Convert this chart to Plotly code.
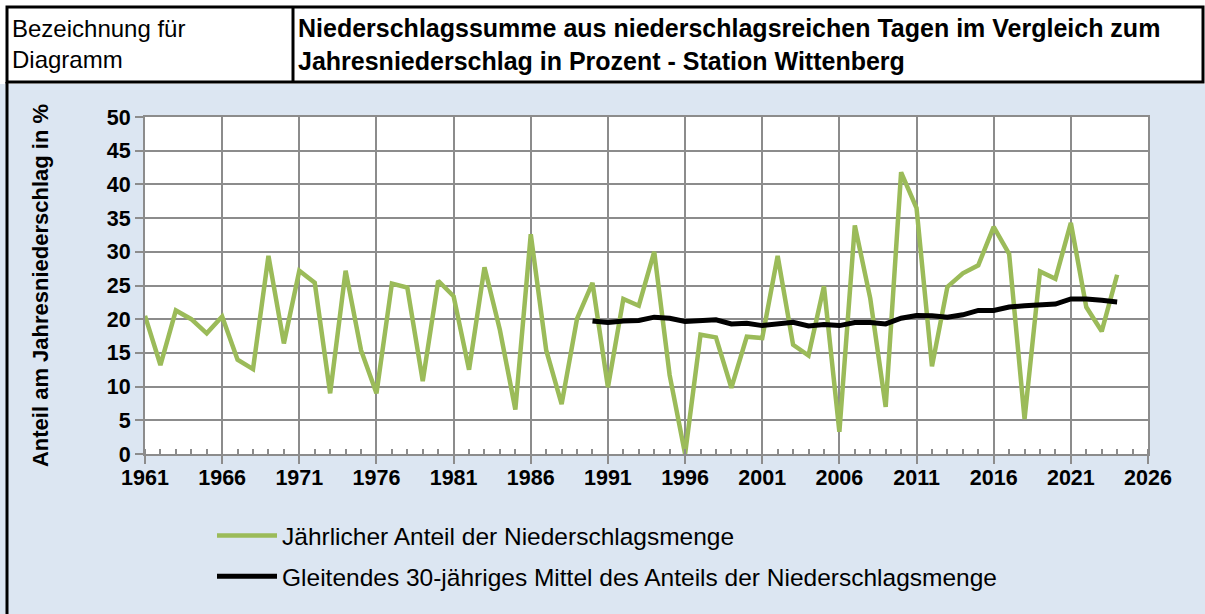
import plotly.graph_objects as go

years = list(range(1961, 2025))
annual_share = [
    20.5, 13.2, 21.3, 20.0, 17.9, 20.4, 14.0, 12.6, 29.4, 16.4,
    27.2, 25.4, 9.0, 27.2, 15.4, 9.0, 25.3, 24.7, 10.8, 25.7,
    23.4, 12.5, 27.7, 18.4, 6.6, 32.6, 15.4, 7.4, 20.1, 25.4,
    9.9, 23.0, 22.0, 30.0, 11.7, 0.0, 17.7, 17.3, 9.8, 17.4,
    17.2, 29.4, 16.2, 14.6, 24.9, 3.3, 33.9, 23.1, 7.0, 41.8,
    36.5, 13.0, 24.8, 26.8, 28.0, 33.7, 29.7, 5.2, 27.1, 26.0,
    34.3, 21.8, 18.2, 26.6,
]
ma_years = list(range(1990, 2025))
moving_avg = [
    19.75, 19.5, 19.75, 19.8, 20.3, 20.15, 19.65, 19.8, 19.9, 19.3,
    19.4, 19.05, 19.3, 19.55, 19.0, 19.2, 19.05, 19.5, 19.5, 19.3,
    20.15, 20.55, 20.5, 20.3, 20.65, 21.3, 21.3, 21.8, 22.0, 22.2,
    22.25, 23.0, 23.0, 22.8, 22.55,
]
x_ticks = list(range(1961, 2027, 5))
y_ticks = list(range(0, 51, 5))

label_left = "Bezeichnung für<br>Diagramm"
title_text = ("<b>Niederschlagssumme aus niederschlagsreichen Tagen im Vergleich zum<br>"
              "Jahresniederschlag in Prozent - Station Wittenberg</b>")
y_title = "<b>Anteil am Jahresniederschlag in %</b>"
name_green = "Jährlicher Anteil der Niederschlagsmenge"
name_black = "Gleitendes 30-jähriges Mittel des Anteils der Niederschlagsmenge"

W, H = 1205, 614
ML, MR, MT, MB = 145, 57, 117, 160
PW, PH = W - ML - MR, H - MT - MB
font = "Liberation Sans, Arial, sans-serif"
grid_col = "#8c8c8c"

fig = go.Figure()
fig.add_trace(go.Scatter(x=years, y=annual_share, mode="lines", name=name_green,
                         legendgroup="g1",
                         line=dict(color="#9bbb59", width=4.5)))
fig.add_trace(go.Scatter(x=ma_years, y=moving_avg, mode="lines", name=name_black,
                         legendgroup="g2",
                         line=dict(color="#000000", width=5)))

def px(x):
    return (x - ML) / PW

def py(y):
    return (H - MB - y) / PH

shapes = [
    dict(type="rect", xref="paper", yref="paper", x0=px(0), x1=px(W), y0=py(84), y1=py(0),
         fillcolor="white", line=dict(width=0), layer="below"),
    dict(type="rect", xref="paper", yref="paper", x0=px(7), x1=px(1203), y0=py(82), y1=py(7),
         fillcolor="rgba(0,0,0,0)", line=dict(color="black", width=3)),
    dict(type="line", xref="paper", yref="paper", x0=px(293), x1=px(293), y0=py(82), y1=py(7),
         line=dict(color="black", width=3)),
    dict(type="line", xref="paper", yref="paper", x0=px(7), x1=px(7), y0=py(82), y1=py(H),
         line=dict(color="black", width=3)),
]

annotations = [
    dict(text=label_left, xref="paper", yref="paper", x=px(10), y=py(13), xanchor="left",
         yanchor="top", showarrow=False, align="left",
         font=dict(family=font, size=24, color="black")),
    dict(text=title_text, xref="paper", yref="paper", x=px(296), y=py(12), xanchor="left",
         yanchor="top", showarrow=False, align="left",
         font=dict(family=font, size=25, color="black")),
]

fig.update_layout(
    width=W, height=H,
    margin=dict(l=ML, r=MR, t=MT, b=MB),
    paper_bgcolor="#dce6f2",
    plot_bgcolor="white",
    shapes=shapes,
    annotations=annotations,
    showlegend=True,
    legend=dict(x=px(212), y=py(513), xanchor="left", yanchor="top",
                bgcolor="rgba(0,0,0,0)", font=dict(family=font, size=24.5, color="black"),
                traceorder="grouped", tracegroupgap=6, itemwidth=60),
    xaxis=dict(range=[1961, 2026], tickvals=x_ticks, ticktext=[str(v) for v in x_ticks],
               showgrid=True, gridcolor=grid_col, gridwidth=2,
               showline=True, linecolor=grid_col, linewidth=2, mirror=True,
               ticks="outside", ticklen=8, tickwidth=2, tickcolor=grid_col,
               ticklabelstandoff=-5,
               minor=dict(dtick=1, tick0=1961, ticks="inside", ticklen=5, tickwidth=1.5,
                          tickcolor=grid_col, showgrid=False),
               tickfont=dict(family=font, size=21.5, color="black", weight="bold"),
               zeroline=False, fixedrange=True),
    yaxis=dict(range=[0, 50], tickvals=y_ticks, showgrid=True, gridcolor=grid_col, gridwidth=2,
               showline=True, linecolor=grid_col, linewidth=2, mirror=True,
               ticks="outside", ticklen=8, tickwidth=2, tickcolor=grid_col,
               tickfont=dict(family=font, size=21.5, color="black", weight="bold"),
               title=dict(text=y_title, font=dict(family=font, size=22, color="black"), standoff=52),
               zeroline=False, fixedrange=True),
)

fig.write_html("out.html", config={"displayModeBar": False},
               post_script="document.body.style.margin='0';")
